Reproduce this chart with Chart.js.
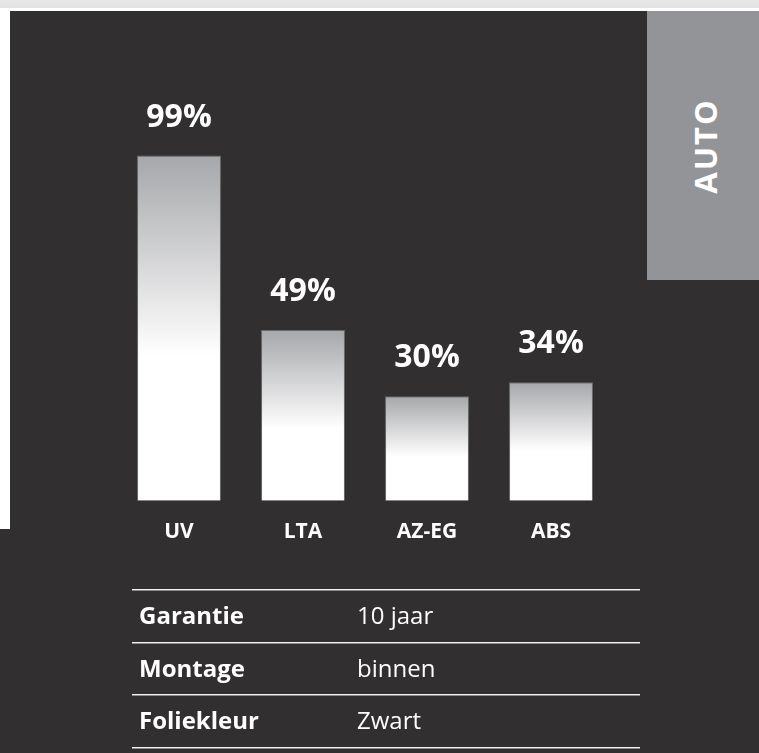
<!DOCTYPE html>
<html>
<head>
<meta charset="utf-8">
<script src="https://cdn.jsdelivr.net/npm/chart.js@4.4.1/dist/chart.umd.min.js"></script>
<style>
  html, body { margin: 0; padding: 0; }
  body { width: 759px; height: 753px; position: relative; overflow: hidden; background: #ffffff; font-family: "Open Sans", sans-serif; }
  #strip { position: absolute; left: 0; top: 0; width: 759px; height: 8px; background: linear-gradient(#e9e9e9, #e2e2e2); }
  #panel { position: absolute; left: 10px; top: 11px; width: 749px; height: 742px; background: #312f30; }
  #panel2 { position: absolute; left: 0; top: 529px; width: 20px; height: 224px; background: #312f30; }
  #auto { position: absolute; left: 647px; top: 11px; width: 112px; height: 269px; background: #939498; }
  #autoText { position: absolute; left: 705px; top: 146px; transform: translate(-50%, -50%) rotate(-90deg); color: #fff; font-weight: 700; font-size: 31px; letter-spacing: 2px; white-space: nowrap; }
  #wrap { position: absolute; left: 0; top: 0; width: 759px; height: 753px; }
  .line { position: absolute; left: 132px; width: 508px; height: 1px; background: #f2f2f2; border-bottom: 1px solid #8a8a8a; }
  .cell { position: absolute; color: #fff; font-size: 24px; line-height: 28px; }
</style>
</head>
<body>
<div id="strip"></div>
<div id="panel"></div>
<div id="panel2"></div>
<div id="auto"></div>
<div id="autoText">AUTO</div>
<div id="wrap"><canvas id="grafico"></canvas></div>
<div id="tabla"></div>
<script>
// datos del grafico
let categorias = ["UV", "LTA", "AZ-EG", "ABS"];
let valores = [99, 49, 30, 34];
let etiquetas = ["99%", "49%", "30%", "34%"];
let tablaNombres = ["Garantie", "Montage", "Foliekleur"];
let tablaValores = ["10 jaar", "binnen", "Zwart"];

// tabla de abajo
let tabla = document.getElementById("tabla");
let lineasY = [589, 642, 694, 747];
for (let y of lineasY) {
    let l = document.createElement("div");
    l.className = "line";
    l.style.top = y + "px";
    tabla.appendChild(l);
}
for (let i = 0; i < tablaNombres.length; i++) {
    let n = document.createElement("div");
    n.className = "cell";
    n.style.left = "139px";
    n.style.top = (lineasY[i] + 12) + "px";
    n.style.fontWeight = "700";
    n.textContent = tablaNombres[i];
    tabla.appendChild(n);
    let v = document.createElement("div");
    v.className = "cell";
    v.style.left = "357px";
    v.style.top = (lineasY[i] + 12) + "px";
    v.textContent = tablaValores[i];
    tabla.appendChild(v);
}

// degradado de cada barra
function degradado(context) {
    let chart = context.chart;
    let y = chart.scales.y;
    if (!y || context.raw === undefined) return "#ffffff";
    let top = y.getPixelForValue(context.raw);
    let bottom = y.getPixelForValue(0);
    if (!isFinite(top) || !isFinite(bottom)) return "#ffffff";
    let g = chart.ctx.createLinearGradient(0, top, 0, bottom);
    g.addColorStop(0, "#a6a7aa");
    g.addColorStop(0.58, "#ffffff");
    g.addColorStop(1, "#ffffff");
    return g;
}

// porcentajes sobre las barras
const etiquetasPlugin = {
    id: "etiquetas",
    afterDatasetsDraw(chart) {
        let ctx = chart.ctx;
        let meta = chart.getDatasetMeta(0);
        ctx.save();
        ctx.fillStyle = "#ffffff";
        ctx.font = "700 32px 'Open Sans'";
        ctx.textAlign = "center";
        ctx.textBaseline = "middle";
        meta.data.forEach(function (bar, i) {
            ctx.fillText(etiquetas[i], bar.x, bar.y - 38);
        });
        ctx.restore();
    }
};

let ctx = document.getElementById("grafico");
new Chart(ctx, {
    type: "bar",
    data: {
        labels: categorias,
        datasets: [
            {
                data: valores,
                backgroundColor: degradado,
                borderColor: "rgba(120,120,122,0.8)",
                borderWidth: { top: 1, left: 1, right: 1, bottom: 0 },
                barPercentage: 0.677,
                categoryPercentage: 1,
            },
        ],
    },
    options: {
        responsive: true,
        maintainAspectRatio: false,
        animation: false,
        layout: { padding: { left: 117, right: 146, top: 152, bottom: 197 } },
        scales: {
            x: {
                grid: { display: false },
                border: { display: false },
                ticks: {
                    color: "#ffffff",
                    font: { family: "'Open Sans'", size: 21, weight: "700" },
                    padding: 11,
                },
            },
            y: {
                display: false,
                min: 0,
                max: 100,
            },
        },
        plugins: {
            legend: { display: false },
            tooltip: { enabled: false },
        },
    },
    plugins: [etiquetasPlugin],
});
</script>
</body>
</html>
